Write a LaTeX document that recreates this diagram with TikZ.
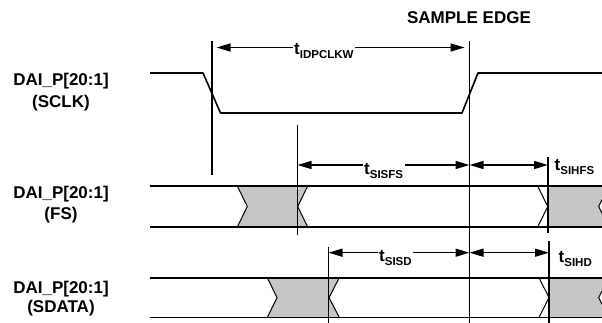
\documentclass[tikz,border=0pt]{standalone}
\usepackage{fontspec}
\setmainfont{Liberation Sans}
\usetikzlibrary{arrows.meta}
\definecolor{busgray}{HTML}{C6C6C6}
\newcommand\tlab[1]{t\raisebox{-4pt}{\fontsize{11.5}{12}\selectfont #1}}
\begin{document}
\begin{tikzpicture}[x=1pt,y=-1pt,
  sig/.style={line width=1.6pt,line join=round},
  vline/.style={line width=1.3pt},
  chev/.style={line width=1pt},
  dim/.style={line width=1.3pt,{Triangle[length=14pt,width=8pt]}-{Triangle[length=14pt,width=8pt]}},
  lbl/.style={font=\bfseries\fontsize{17}{20}\selectfont,anchor=base,inner sep=0pt},
  tlbl/.style={fill=white,inner sep=1.5pt,anchor=base west,font=\bfseries\fontsize{17}{20}\selectfont}]
\useasboundingbox (0,0) rectangle (602,323);

% gray fills
\fill[busgray] (237.3,186)--(307.7,186)--(297.7,206.5)--(307.7,227)--(237.3,227)--(247.3,206.5)--cycle;
\fill[busgray] (547.7,186)--(602,186)--(602,199.7)--(598.7,206.5)--(602,213.3)--(602,227)--(547.7,227)--cycle;
\fill[busgray] (267.3,277.7)--(339.3,277.7)--(329,297.6)--(339.3,317.5)--(267.3,317.5)--(277,297.6)--cycle;
\fill[busgray] (549,277.7)--(602,277.7)--(602,291)--(598.7,297.6)--(602,304.2)--(602,317.5)--(549,317.5)--cycle;

% SCLK
\draw[sig] (150,73)--(203,73)--(220.5,113)--(462,113)--(478,73)--(602,73);
% FS bus
\draw[sig] (150,186)--(602,186);
\draw[sig] (150,227)--(602,227);
\draw[chev] (237.3,186)--(247.3,206.5)--(237.3,227);
\draw[chev] (307.7,186)--(297.7,206.5)--(307.7,227);
\draw[chev] (537.7,186)--(547.7,206.5)--(537.7,227);
\draw[chev] (602,199.7)--(598.7,206.5)--(602,213.3);
% SDATA bus
\draw[sig] (150,277.7)--(602,277.7);
\draw[sig] (150,317.5)--(602,317.5);
\draw[chev] (267.3,277.7)--(277,297.6)--(267.3,317.5);
\draw[chev] (339.3,277.7)--(329,297.6)--(339.3,317.5);
\draw[chev] (539,277.7)--(549,297.6)--(539,317.5);
\draw[chev] (602,291)--(598.7,297.6)--(602,304.2);

% vertical reference lines
\coordinate (v1t) at (212,41);   \coordinate (v1b) at (212,175);
\coordinate (v2t) at (469.5,41); \coordinate (v2b) at (469.5,323);
\coordinate (v3t) at (297.5,125);\coordinate (v3b) at (297.5,235);
\coordinate (v4t) at (548,157);  \coordinate (v4b) at (548,233);
\coordinate (v5t) at (328.5,247);\coordinate (v5b) at (328.5,323);
\coordinate (v6t) at (549,241);  \coordinate (v6b) at (549,323);
\draw[vline] (v1t)--(v1b);
\draw[vline] (v2t)--(v2b);
\draw[vline] (v3t)--(v3b);
\draw[vline] (v4t)--(v4b);
\draw[vline] (v5t)--(v5b);
\draw[vline] (v6t)--(v6b);

% dimension arrows
\coordinate (a1l) at (212,47.5);   \coordinate (a1r) at (469.5,47.5);
\coordinate (a2l) at (297.5,165);  \coordinate (a2r) at (469.5,165);
\coordinate (a3r) at (548,165);
\coordinate (a4l) at (328.5,252.7);\coordinate (a4r) at (469.5,252.7);
\coordinate (a5r) at (549,252.7);
\draw[dim,shorten <=4.5pt,shorten >=5pt] (a1l)--(a1r);
\draw[dim] (a2l)--(a2r);
\draw[dim] (a2r)--(a3r);
\draw[dim] (a4l)--(a4r);
\draw[dim] (a4r)--(a5r);

% timing labels
\node[tlbl] (tidp) at (292.5,55) {\tlab{IDPCLKW}};
\node[tlbl] (tsisfs) at (362.5,174.5) {\tlab{SISFS}};
\node[tlbl] (tsihfs) at (553,171) {\tlab{SIHFS}};
\node[tlbl] (tsisd) at (377.5,261.5) {\tlab{SISD}};
\node[tlbl] (tsihd) at (557,262.5) {\tlab{SIHD}};

% signal names
\node[lbl] (sample) at (469,24) {SAMPLE EDGE};
\node[lbl] (sclkA) at (61,86) {DAI\_P[20:1]};
\node[lbl] (sclkB) at (61,107.5) {(SCLK)};
\node[lbl] (fsA) at (61,199) {DAI\_P[20:1]};
\node[lbl] (fsB) at (61,219) {(FS)};
\node[lbl] (sdA) at (61,293) {DAI\_P[20:1]};
\node[lbl] (sdB) at (61,312) {(SDATA)};
\end{tikzpicture}
\end{document}
